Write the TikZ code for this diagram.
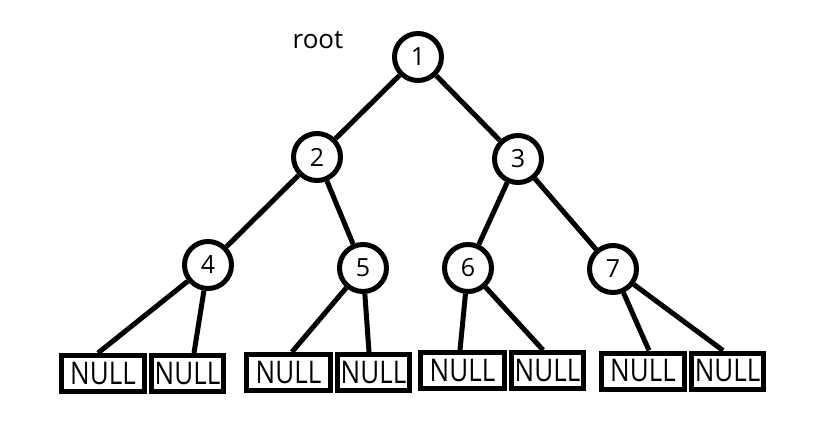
\documentclass[tikz,border=0pt]{standalone}
\usepackage{fontspec}
\setmainfont{Open Sans}
\begin{document}
\begin{tikzpicture}[x=1pt,y=-1pt,
  tnode/.style={circle,draw,line width=5pt,minimum size=47pt,inner sep=0pt,font=\fontsize{25}{25}\selectfont},
  nullbox/.style={rectangle,draw,line width=5pt,minimum height=36pt,inner sep=0pt,font=\fontsize{26}{26}\selectfont},
  edge/.style={line width=5pt}]
\useasboundingbox (0,0) rectangle (840,434);
\node (root) at (318,40) {\fontsize{26}{26}\selectfont root};
\node[tnode] (n1) at (418,57) {1};
\node[tnode] (n2) at (317,157) {2};
\node[tnode] (n3) at (518,159) {3};
\node[tnode] (n4) at (208,265) {4};
\node[tnode] (n5) at (363,268) {5};
\node[tnode] (n6) at (468,268) {6};
\node[tnode] (n7) at (613,269) {7};
\newcommand{\nulltext}{\raisebox{-2pt}{\scalebox{1}[1.2]{NULL}}}
\node[nullbox,minimum width=83pt] (b1) at (103,373.5) {\nulltext};
\node[nullbox,minimum width=72pt] (b2) at (187.5,373.5) {\nulltext};
\node[nullbox,minimum width=84pt] (b3) at (288.5,372.5) {\nulltext};
\node[nullbox,minimum width=72pt] (b4) at (373.5,372.5) {\nulltext};
\node[nullbox,minimum width=84pt] (b5) at (462.5,370.5) {\nulltext};
\node[nullbox,minimum width=72pt] (b6) at (547.5,370.5) {\nulltext};
\node[nullbox,minimum width=83pt] (b7) at (643,371) {\nulltext};
\node[nullbox,minimum width=72pt] (b8) at (727.5,371) {\nulltext};
\draw[edge] (n1) -- (n2);
\draw[edge] (n1) -- (n3);
\draw[edge] (n2) -- (n4);
\draw[edge] (n2) -- (n5);
\draw[edge] (n3) -- (n6);
\draw[edge] (n3) -- (n7);
\draw[edge] (n4) -- ([xshift=-5pt]b1.north);
\draw[edge] (n4) -- ([xshift=6.5pt]b2.north);
\draw[edge] (n5) -- ([xshift=3.5pt]b3.north);
\draw[edge] (n5) -- ([xshift=-4.5pt]b4.north);
\draw[edge] (n6) -- ([xshift=-2.5pt]b5.north);
\draw[edge] (n6) -- ([xshift=-4.5pt]b6.north);
\draw[edge] (n7) -- ([xshift=6pt]b7.north);
\draw[edge] (n7) -- ([xshift=-4.5pt]b8.north);
\end{tikzpicture}
\end{document}
